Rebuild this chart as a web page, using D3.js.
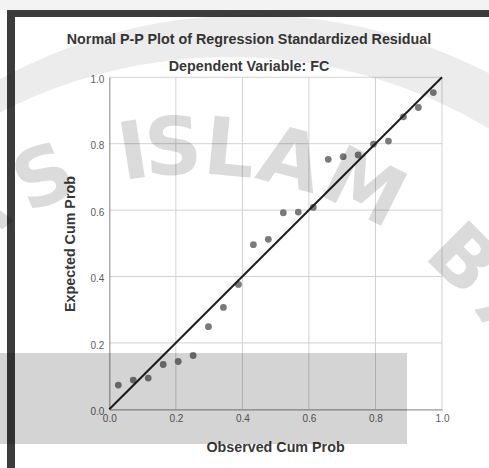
<!DOCTYPE html>
<html>
<head>
<meta charset="utf-8">
<script src="https://cdn.jsdelivr.net/npm/d3@7"></script>
<style>
  html, body { margin: 0; padding: 0; background: #fff; }
  svg { display: block; }
  .tick text { font-family: "Liberation Sans", Arial, sans-serif; font-size: 10px; fill: #5e5e5e; }
  .title { font-family: "Liberation Sans", Arial, sans-serif; font-weight: bold; fill: #383838; font-size: 14.3px; }
</style>
</head>
<body>
<div id="chart"></div>
<script>
// Normal P-P plot
const observed = [0.027, 0.072, 0.117, 0.162, 0.207, 0.252, 0.298, 0.343, 0.388, 0.433, 0.478,
                  0.523, 0.568, 0.613, 0.658, 0.703, 0.748, 0.794, 0.839, 0.884, 0.929, 0.974];
const expected = [0.073, 0.088, 0.094, 0.135, 0.144, 0.162, 0.249, 0.307, 0.376, 0.496, 0.512,
                  0.592, 0.594, 0.608, 0.753, 0.761, 0.766, 0.799, 0.808, 0.881, 0.909, 0.954];
const ticks = [0, 0.2, 0.4, 0.6, 0.8, 1.0];

// watermark letters and their angle on the arc (degrees)
const wmLetters = ['A', 'S', 'I', 'S', 'L', 'A', 'M', 'B', 'A'];
const wmAngles = [-35, -23, -9, -3, 5.5, 14.8, 26.6, 45, 57];

const W = 489, H = 468;

const svg = d3.select('#chart')
    .append('svg')
    .attr('width', W)
    .attr('height', H);

// top strip and dark frame
svg.append('rect').attr('x', 0).attr('y', 0).attr('width', W).attr('height', 10).attr('fill', '#f3f3f3');
svg.append('rect').attr('x', 7).attr('y', 10).attr('width', W - 7).attr('height', 7).attr('fill', '#3c3c3c');
svg.append('rect').attr('x', 7).attr('y', 10).attr('width', 8).attr('height', H - 10).attr('fill', '#3c3c3c');

const x = d3.scaleLinear().domain([0, 1]).range([109.3, 442]);
const y = d3.scaleLinear().domain([0, 1]).range([409.3, 77.3]);

// grid
const grid = svg.append('g');
grid.selectAll('.gx')
    .data(ticks.slice(1))
    .enter()
    .append('line')
    .attr('x1', d => x(d)).attr('x2', d => x(d))
    .attr('y1', y(0)).attr('y2', y(1))
    .attr('stroke', '#d2d2d2');
grid.selectAll('.gy')
    .data(ticks.slice(1))
    .enter()
    .append('line')
    .attr('x1', x(0)).attr('x2', x(1))
    .attr('y1', d => y(d)).attr('y2', d => y(d))
    .attr('stroke', '#d2d2d2');

// axes
const xAxis = d3.axisBottom(x).tickValues(ticks).tickFormat(d3.format('.1f')).tickSize(0).tickPadding(6);
const yAxis = d3.axisLeft(y).tickValues(ticks).tickFormat(d3.format('.1f')).tickSize(0).tickPadding(5);

const gx = svg.append('g').attr('transform', `translate(0, ${y(0)})`).call(xAxis);
gx.select('.domain').attr('stroke', '#9a9a9a').attr('stroke-width', 1.2);
const gy = svg.append('g').attr('transform', `translate(${x(0)}, 0)`).call(yAxis);
gy.select('.domain').attr('stroke', '#9a9a9a').attr('stroke-width', 1.2);
gy.selectAll('.tick text').attr('dy', '0.52em');

// points
svg.selectAll('.dot')
    .data(observed)
    .enter()
    .append('circle')
    .attr('class', 'dot')
    .attr('cx', d => x(d))
    .attr('cy', (d, i) => y(expected[i]))
    .attr('r', 3.4)
    .attr('fill', '#7a7a7a');

// reference line
svg.append('line')
    .attr('x1', x(0)).attr('y1', y(0))
    .attr('x2', x(1)).attr('y2', y(1))
    .attr('stroke', '#1e1e1e')
    .attr('stroke-width', 2);

// titles
svg.append('text').attr('class', 'title')
    .attr('x', 249).attr('y', 44)
    .attr('text-anchor', 'middle')
    .text('Normal P-P Plot of Regression Standardized Residual');
svg.append('text').attr('class', 'title')
    .attr('x', 249).attr('y', 70.5)
    .attr('text-anchor', 'middle')
    .text('Dependent Variable: FC');
svg.append('text').attr('class', 'title')
    .attr('x', 275.5).attr('y', 452)
    .attr('text-anchor', 'middle')
    .text('Observed Cum Prob');
svg.append('text').attr('class', 'title')
    .attr('transform', 'rotate(-90)')
    .attr('x', -244).attr('y', 75)
    .attr('text-anchor', 'middle')
    .text('Expected Cum Prob');

// watermark: arc band
const wm = svg.append('g');
const outer = { cx: 250, cy: 535, r: 520 };
const inner = { cx: 230, cy: 560, r: 503 };
const band = d3.path();
band.arc(outer.cx, outer.cy, outer.r, Math.PI * 1.05, Math.PI * 1.95);
band.arc(inner.cx, inner.cy, inner.r, Math.PI * 1.95, Math.PI * 1.05, true);
band.closePath();
wm.append('path')
    .attr('d', band.toString())
    .attr('fill', 'rgba(0,0,0,0.075)');

// watermark letters
const wc = { cx: 193, cy: 529, r: 384 };
wm.selectAll('.wm')
    .data(wmLetters)
    .enter()
    .append('text')
    .attr('x', wc.cx)
    .attr('y', wc.cy - wc.r)
    .attr('dy', '0.36em')
    .attr('text-anchor', 'middle')
    .attr('transform', (d, i) => `rotate(${wmAngles[i]}, ${wc.cx}, ${wc.cy})`)
    .style('font-family', '"DejaVu Sans", sans-serif')
    .style('font-weight', 'bold')
    .style('font-size', '80px')
    .attr('fill', 'rgba(0,0,0,0.14)')
    .text(d => d);

// grey box over the lower part
svg.append('rect')
    .attr('x', 0).attr('y', 353)
    .attr('width', 407).attr('height', 91)
    .attr('fill', 'rgba(0,0,0,0.17)');
</script>
</body>
</html>
